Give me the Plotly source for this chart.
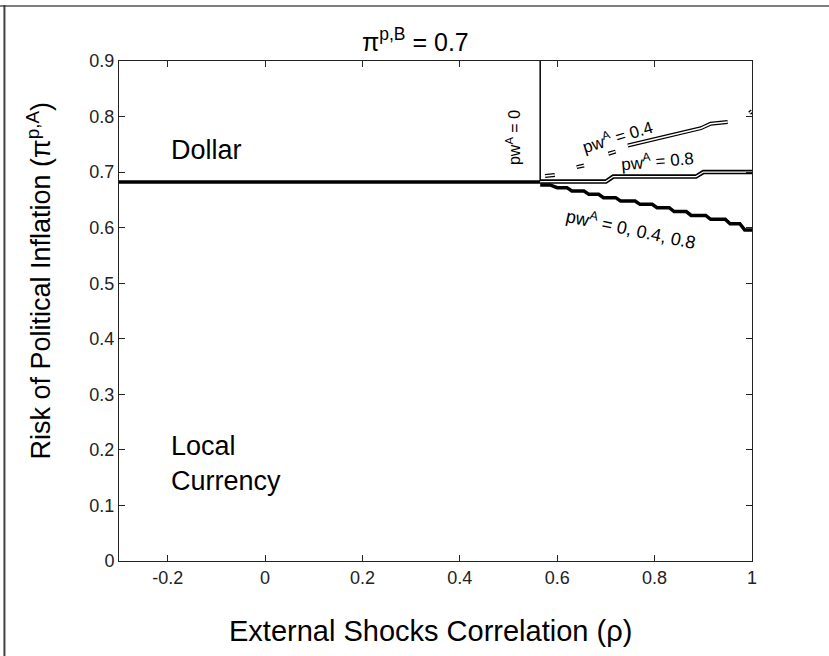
import plotly.graph_objects as go

# ---- data ----
x_ticks = [-0.2, 0, 0.2, 0.4, 0.6, 0.8, 1]
x_tick_labels = ["-0.2", "0", "0.2", "0.4", "0.6", "0.8", "1"]
y_ticks = [0, 0.1, 0.2, 0.3, 0.4, 0.5, 0.6, 0.7, 0.8, 0.9]
y_tick_labels = ["0", "0.1", "0.2", "0.3", "0.4", "0.5", "0.6", "0.7", "0.8", "0.9"]

# pw^A = 0 boundary (horizontal + vertical)
rho_pw0 = [-0.3, 0.565, 0.565]
pi_pw0 = [0.682, 0.682, 0.9]

# pw^A = 0, 0.4, 0.8 (lower boundary, right region)
rho_all = [0.565, 0.585, 0.60, 0.62, 0.63, 0.655, 0.665, 0.685, 0.695, 0.72, 0.73, 0.76,
           0.77, 0.795, 0.805, 0.83, 0.84, 0.865, 0.875, 0.905, 0.915, 0.945, 0.955, 0.975,
           0.985, 1.0]
pi_all = [0.677, 0.677, 0.672, 0.672, 0.666, 0.666, 0.660, 0.660, 0.654, 0.654, 0.648, 0.648,
          0.642, 0.642, 0.636, 0.636, 0.629, 0.629, 0.622, 0.622, 0.615, 0.615, 0.607, 0.607,
          0.596, 0.596]

# pw^A = 0.8
rho_08 = [0.565, 0.70, 0.715, 0.885, 0.90, 1.0]
pi_08 = [0.683, 0.683, 0.692, 0.692, 0.700, 0.700]

# pw^A = 0.4 (broken double line)
rho_04 = [0.575, 0.595, None, 0.64, 0.655, None, 0.705, 0.72, None, 0.745, 0.78, 0.80, 0.83,
          0.85, 0.875, 0.895, 0.915, 0.95, None, 0.995, 1.0]
pi_04 = [0.693, 0.695, None, 0.709, 0.712, None, 0.733, 0.737, None, 0.748, 0.755, 0.760, 0.765,
         0.770, 0.775, 0.779, 0.787, 0.790, None, 0.806, 0.81]

FONT = "Liberation Sans, Arial, Helvetica, sans-serif"

fig = go.Figure()

def add(x, y, color, width):
    fig.add_trace(go.Scatter(x=x, y=y, mode="lines", line=dict(color=color, width=width),
                             showlegend=False, hoverinfo="skip", connectgaps=False))

add(rho_pw0[:2], pi_pw0[:2], "black", 3.5)
add(rho_pw0[1:], pi_pw0[1:], "black", 1.5)
add(rho_all, pi_all, "black", 3.5)
add(rho_08, pi_08, "black", 4.5)
add(rho_08, pi_08, "white", 1.2)
add(rho_04, pi_04, "black", 4)
add(rho_04, pi_04, "white", 1.5)

ann = []
def text(x, y, s, size, angle=0, xanchor="center", xref="x", yref="y", yanchor="middle", align="center"):
    ann.append(dict(x=x, y=y, text=s, xref=xref, yref=yref, showarrow=False, textangle=angle,
                    xanchor=xanchor, yanchor=yanchor, align=align,
                    font=dict(family=FONT, size=size, color="black")))

text(-0.198, 0.74, "Dollar", 27, xanchor="left")
text(-0.198, 0.175, "Local<br>Currency", 27, xanchor="left", align="left")
text(0.509, 0.763, "pw<sup>A</sup> = 0", 16, angle=-90)
text(0.723, 0.765, "pw<sup>A</sup> = 0.4", 17, angle=-17)
text(0.805, 0.722, "pw<sup>A</sup> = 0.8", 17, angle=-5)
text(0.751, 0.598, "pw<sup>A</sup> = 0, 0.4, 0.8", 18, angle=12)

# titles
text(0.469, 1.042, "π<sup>p,B</sup> = 0.7", 25, xref="paper", yref="paper")
text(-0.127, 0.56, "Risk of Political Inflation (π<sup>p,A</sup>)", 27, angle=-90,
     xref="paper", yref="paper")
text(0.492, -0.14, "External Shocks Correlation (ρ)", 29, xref="paper", yref="paper")

axis_common = dict(showline=True, linecolor="#222222", linewidth=1, mirror="ticks",
                   ticks="inside", ticklen=6, tickcolor="#222222", showgrid=False,
                   zeroline=False, tickfont=dict(family=FONT, size=18, color="#222222"))

fig.update_layout(
    width=829, height=656, autosize=False,
    margin=dict(l=119, r=77, t=61, b=95),
    paper_bgcolor="white", plot_bgcolor="white",
    xaxis=dict(range=[-0.3, 1], tickvals=x_ticks, ticktext=x_tick_labels, **axis_common),
    yaxis=dict(range=[0, 0.9], tickvals=y_ticks, ticktext=y_tick_labels, **axis_common),
    annotations=ann,
    shapes=[
        dict(type="line", xref="paper", yref="paper", x0=-0.19, x1=1.13, y0=1.11, y1=1.11,
             line=dict(color="#7f7f7f", width=2)),
        dict(type="line", xref="paper", yref="paper", x0=-0.181, x1=-0.181, y0=1.112, y1=-0.2,
             line=dict(color="#404040", width=2)),
    ],
)

fig.write_html("out.html", config={"displayModeBar": False},
               post_script="document.body.style.margin='0';")
